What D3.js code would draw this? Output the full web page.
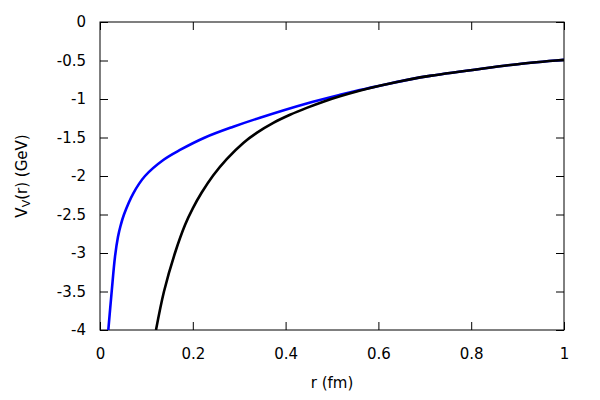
<!DOCTYPE html>
<meta charset="utf-8">
<script src="https://d3js.org/d3.v7.min.js"></script>
<style>
  body { margin: 0; background: #fff; }
  text { font-family: "DejaVu Sans", sans-serif; }
</style>
<body>
<div id="graph"></div>
<script>
  // values: r in fm, V in GeV
  var blackR = [0.1207, 0.1379, 0.1616, 0.1832, 0.2, 0.2192, 0.2442, 0.2731, 0.3088, 0.3377,
                0.3735, 0.4095, 0.4455, 0.4813, 0.5172, 0.5532, 0.589, 0.625, 0.668, 0.711, 0.826, 0.9, 1.0];
  var blackV = [-4.0, -3.5, -3.0, -2.636, -2.42, -2.215, -1.99, -1.78, -1.57, -1.44,
                -1.31, -1.205, -1.115, -1.035, -0.965, -0.903, -0.848, -0.798, -0.745, -0.700, -0.603, -0.548, -0.49];

  var blueR = [0.0179, 0.0252, 0.0323, 0.0388, 0.0446, 0.0517, 0.0718, 0.097, 0.1364, 0.1724, 0.2263,
               0.2873, 0.3448, 0.4455, 0.5172, 0.5532, 0.589, 0.625, 0.668, 0.711, 0.826, 0.9, 1.0];
  var blueV = [-4.0, -3.5, -3.05, -2.79, -2.64, -2.5, -2.225, -2.0, -1.792, -1.662, -1.5,
               -1.360, -1.243, -1.058, -0.945, -0.893, -0.846, -0.798, -0.745, -0.700, -0.603, -0.548, -0.49];

  var xTicks = [0, 0.2, 0.4, 0.6, 0.8, 1];
  var yTicks = [0, -0.5, -1, -1.5, -2, -2.5, -3, -3.5, -4];

  var margin = { top: 22, right: 36, bottom: 70, left: 100 },
    width = 600 - margin.left - margin.right,
    height = 400 - margin.top - margin.bottom;

  var svg = d3.select("#graph")
    .append("svg")
    .attr("width", 600)
    .attr("height", 400)
    .append("g")
    .attr("transform", "translate(" + margin.left + "," + margin.top + ")");

  var x = d3.scaleLinear().domain([0, 1]).range([0, width]);
  var y = d3.scaleLinear().domain([-4, 0]).range([height, 0]);

  svg.append("clipPath").attr("id", "clip")
    .append("rect").attr("width", width).attr("height", height);

  // ticks point inward, mirrored on top and right like gnuplot
  var tick = 8;
  var fmt = function (d) { return String(d); };

  svg.append("g")
    .attr("transform", "translate(0," + height + ")")
    .call(d3.axisBottom(x).tickValues(xTicks).tickFormat(fmt).tickSizeInner(-tick).tickSizeOuter(0).tickPadding(18));
  svg.append("g")
    .call(d3.axisTop(x).tickValues(xTicks).tickFormat("").tickSizeInner(-tick).tickSizeOuter(0));
  svg.append("g")
    .call(d3.axisLeft(y).tickValues(yTicks).tickFormat(fmt).tickSizeInner(-tick).tickSizeOuter(0).tickPadding(14));
  svg.append("g")
    .attr("transform", "translate(" + width + ",0)")
    .call(d3.axisRight(y).tickValues(yTicks).tickFormat("").tickSizeInner(-tick).tickSizeOuter(0));

  svg.selectAll(".tick text")
    .style("font-size", "15px")
    .style("font-family", "'DejaVu Sans', sans-serif")
    .attr("fill", "#000");
  svg.selectAll(".tick line").attr("stroke", "#000");
  svg.selectAll(".domain").remove();

  // border
  svg.append("rect")
    .attr("width", width)
    .attr("height", height)
    .attr("fill", "none")
    .attr("stroke", "#000")
    .attr("stroke-width", 1);

  var line = d3.line()
    .x(function (d) { return x(d[0]); })
    .y(function (d) { return y(d[1]); })
    .curve(d3.curveCatmullRom.alpha(0.5));

  var blueData = d3.zip(blueR, blueV);
  var blackData = d3.zip(blackR, blackV);

  var plot = svg.append("g").attr("clip-path", "url(#clip)");

  plot.append("path")
    .datum(blueData)
    .attr("d", line)
    .attr("fill", "none")
    .attr("stroke", "#0000ff")
    .attr("stroke-width", 2.6);

  plot.append("path")
    .datum(blackData)
    .attr("d", line)
    .attr("fill", "none")
    .attr("stroke", "#000")
    .attr("stroke-width", 2.6);

  // axis titles
  svg.append("text")
    .attr("x", width / 2)
    .attr("y", height + 58)
    .attr("text-anchor", "middle")
    .style("font-size", "15px")
    .text("r (fm)");

  var ylab = svg.append("text")
    .attr("transform", "translate(" + (-73) + "," + (height / 2) + ") rotate(-90)")
    .attr("text-anchor", "middle")
    .style("font-size", "15px");
  ylab.append("tspan").text("V");
  ylab.append("tspan").attr("baseline-shift", "-25%").style("font-size", "11px").text("V");
  ylab.append("tspan").text("(r) (GeV)");
</script>
</body>
